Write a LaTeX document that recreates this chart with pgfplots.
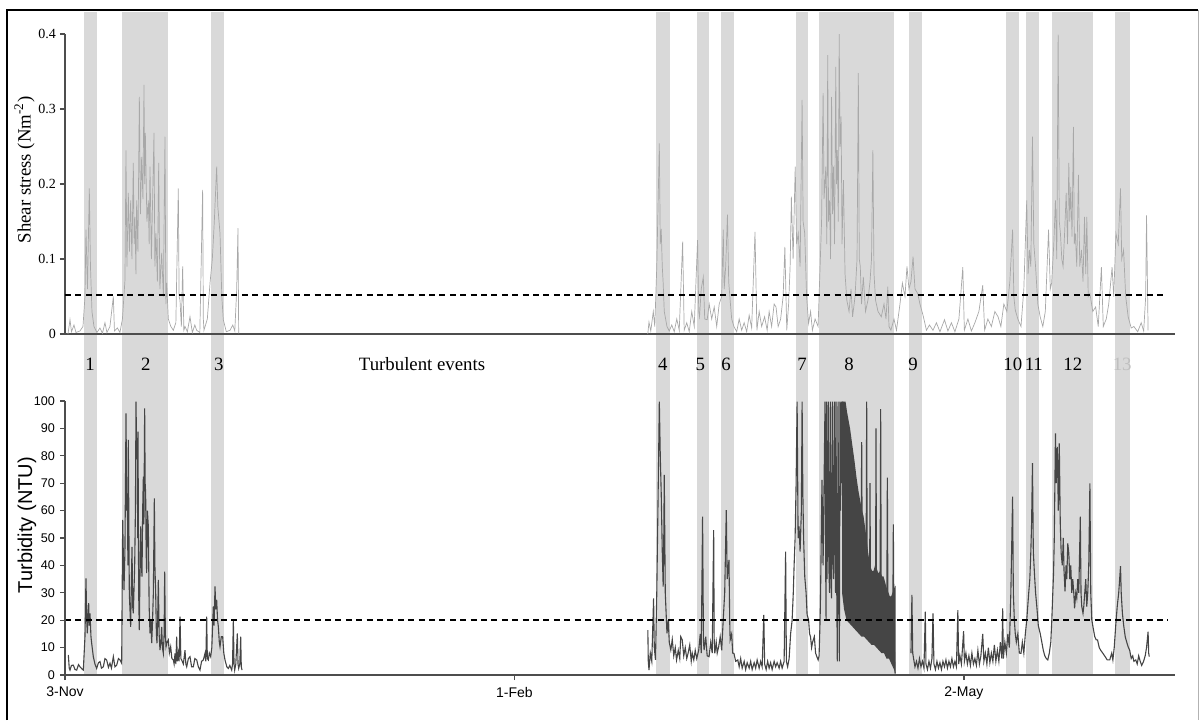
\documentclass[border=0pt]{standalone}
\usepackage{fontspec}
\setmainfont{Liberation Serif}
\setsansfont{Liberation Sans}
\usepackage{pgfplots}
\pgfplotsset{compat=1.18}
\definecolor{band}{HTML}{D9D9D9}
\definecolor{shear}{HTML}{A8A8A8}
\definecolor{turb}{HTML}{454545}
\definecolor{axl}{HTML}{4D4D4D}

% x = days after 3 Nov
\pgfplotsset{
  panel/.style={scale only axis, width=555pt, xmin=0, xmax=222.27,
    enlargelimits=false,
    axis x line=bottom, axis y line=left,
    axis line style={axl, line width=0.75pt, -},
    tick style={axl, line width=0.6pt}, tick align=outside,
    major tick length=2.5pt,
    /pgf/number format/assume math mode=true, scaled y ticks=false},
  evband/.style={fill=band, draw=none, forget plot},
  thr/.style={black, line width=0.8pt, dash pattern=on 3pt off 2.2pt},
}

\begin{document}
\begin{tikzpicture}
\path[use as bounding box] (0,0) rectangle (600pt,360pt);

% ---------- turbidity (bottom) ----------
\begin{axis}[panel, at={(32.5pt,22.5pt)}, anchor=south west, height=137pt,
  ymin=0, ymax=100, ytick={0,10,...,100},
  xtick={0,90,180}, xticklabels={3-Nov,1-Feb,2-May},
  clip=false, axis on top,
  yticklabel style={font=\sffamily\fontsize{6.3}{7}\selectfont, xshift=1pt},
  xticklabel style={font=\sffamily\fontsize{7}{8}\selectfont},
  ylabel={Turbidity (NTU)},
  ylabel style={font=\sffamily\fontsize{10}{12}\selectfont,
    at={(axis description cs:-0.0342,0.547)}, anchor=center},
]
% turbulent event bands (run up through the shear panel)
\addplot[evband] coordinates {(3.8,242)(6.4,242)} \closedcycle;
\addplot[evband] coordinates {(11.4,242)(20.6,242)} \closedcycle;
\addplot[evband] coordinates {(29.2,242)(31.8,242)} \closedcycle;
\addplot[evband] coordinates {(118.3,242)(121.1,242)} \closedcycle;
\addplot[evband] coordinates {(126.6,242)(129.0,242)} \closedcycle;
\addplot[evband] coordinates {(131.4,242)(134.0,242)} \closedcycle;
\addplot[evband] coordinates {(146.4,242)(148.8,242)} \closedcycle;
\addplot[evband] coordinates {(151.0,242)(166.0,242)} \closedcycle;
\addplot[evband] coordinates {(169.0,242)(171.6,242)} \closedcycle;
\addplot[evband] coordinates {(188.4,242)(191.0,242)} \closedcycle;
\addplot[evband] coordinates {(192.4,242)(195.0,242)} \closedcycle;
\addplot[evband] coordinates {(197.6,242)(205.8,242)} \closedcycle;
\addplot[evband] coordinates {(210.3,242)(213.3,242)} \closedcycle;

\addplot[turb, line width=0.55pt] coordinates {
(0.67,7.3)(0.85,2.5)(1.0,1.8)(1.3,3.5)(1.67,3.6)(2.0,2.0)(2.34,1.8)(2.7,3.8)(3.0,3.0)(3.4,2.2)(3.67,1.8)
(4.0,14.0)(4.2,35.3)(4.35,20)(4.47,15.2)(4.6,22)(4.74,26.2)(4.85,18)(5.01,22.5)(5.2,14)(5.34,11.6)(5.67,6.7)
(6.0,4.0)(6.34,2.4)(6.7,4.5)(7.01,4.9)(7.3,2.5)(7.68,3.0)(8.0,6.0)(8.34,5.5)(8.7,2.8)(9.01,4.3)(9.3,2.5)
(9.68,6.7)(10.0,3.0)(10.35,3.6)(10.7,6.0)(11.01,5.5)(11.35,4.3)(11.55,56.6)(11.81,31.0)(12.0,45)(12.22,95.5)
(12.35,60)(12.48,66.3)(12.6,40)(12.68,85.8)(12.88,29.8)(13.15,17.6)(13.3,35)(13.42,46.8)(13.55,25)(13.68,22.5)
(13.8,30)(13.95,39.5)(14.1,60)(14.22,99.8)(14.35,80)(14.48,78.5)(14.55,50)(14.62,88.8)(14.75,30)(14.88,16.4)
(15.0,35)(15.15,54.2)(15.3,40)(15.42,35.9)(15.55,60)(15.69,72.4)(15.8,55)(15.95,97.3)(16.05,70)(16.15,66.3)
(16.25,45)(16.35,37.2)(16.5,60)(16.69,54.2)(16.85,25)(17.02,15.2)(17.2,20)(17.36,11.6)(17.5,18)(17.69,29.8)
(17.89,64.5)(18.0,40)(18.16,29.8)(18.3,15)(18.42,11.6)(18.55,20)(18.69,34.7)(18.85,15)(19.02,9.1)(19.2,12)
(19.36,17.6)(19.5,10)(19.69,7.9)(19.85,15)(19.96,37.7)(20.1,15)(20.23,10.3)(20.45,12)(20.69,12.8)(20.9,8)
(21.16,10.3)(21.4,6)(21.69,5.5)(21.85,4)(22.03,7.9)(22.2,4)(22.36,14.0)(22.5,5)(22.7,7.9)(22.85,5)(23.03,21.3)
(23.2,6)(23.36,5.5)(23.7,4)(24.03,9.1)(24.2,4)(24.37,3.0)(24.7,6)(25.03,6.7)(25.35,3)(25.7,3.0)(26.0,6)
(26.37,5.5)(26.7,3)(27.03,1.8)(27.35,5)(27.7,5.5)(28.04,7.9)(28.2,5)(28.37,21.3)(28.5,6)(28.7,5.5)(28.9,8)
(29.17,6.7)(29.4,10)(29.7,25.0)(29.85,18)(30.04,32.3)(30.2,24)(30.37,27.4)(30.55,20)(30.71,17.6)(30.9,12)
(31.04,10.3)(31.3,14)(31.57,14.0)(31.8,8)(32.04,5.5)(32.4,3)(32.71,2.4)(33.0,3.5)(33.38,1.8)(33.55,4)
(33.71,20.1)(33.85,4)(33.98,1.8)(34.2,4)(34.51,15.2)(34.65,4)(34.78,2.4)(35.0,4)(35.18,14.0)(35.3,3)(35.45,1.8)
};
\addplot[turb, line width=0.55pt] coordinates {
(116.71,16.4)(116.8,5)(116.94,1.8)(117.2,8)(117.5,5)(117.86,28.0)(118.0,10)(118.24,5.5)(118.5,30)(118.8,70)
(119.01,99.8)(119.2,80)(119.39,66.3)(119.6,45)(119.78,32.3)(119.9,50)(120.0,73.0)(120.2,30)(120.54,15.2)
(120.8,20)(121.0,12)(121.31,9.1)(121.6,13)(121.9,7)(122.2,10)(122.46,5.5)(122.8,9)(123.1,6)(123.3,14)
(123.6,12.8)(123.9,7)(124.2,10)(124.5,6)(124.76,7.9)(125.1,11)(125.4,5)(125.6,8)(125.91,5.5)(126.2,9)(126.5,6)
(126.9,9.1)(127.2,15)(127.4,8)(127.67,57.8)(127.85,12)(127.98,9.1)(128.3,14)(128.59,7)(128.97,6.7)(129.3,12)
(129.6,8)(129.89,52.9)(130.0,12)(130.12,7.9)(130.4,12)(130.6,8)(130.89,10.3)(131.2,14)(131.5,9)(131.8,20)
(132.1,30)(132.42,60.2)(132.6,35)(132.96,42.0)(133.1,20)(133.19,12.8)(133.5,15)(133.7,8)(133.95,7.9)(134.3,5)
(134.72,5.5)(135.0,3)(135.3,6)(135.6,2.5)(136.0,5)(136.3,2)(136.6,4.5)(137.0,2.5)(137.3,5)(137.6,2)(138.0,4.5)
(138.3,2.5)(138.6,5.5)(139.0,2.5)(139.3,5)(139.6,3)(139.93,21.9)(140.1,4)(140.4,2)(140.7,5)(141.0,2.5)
(141.3,4.5)(141.6,2)(142.0,5)(142.3,3)(142.6,4.5)(143.0,2.5)(143.3,5)(143.6,2.5)(144.0,5)(144.3,45.0)(144.45,5)
(144.7,3)(145.0,6)(145.3,15)(145.6,20)(145.83,29.8)(146.0,40)(146.2,50)(146.4,70)(146.6,99.8)(146.8,50)
(146.98,54.2)(147.2,45)(147.45,60)(147.6,99.8)(147.75,66.3)(147.9,50)(148.13,35.9)(148.4,30)(148.6,22)
(148.9,20.1)(149.1,15)(149.28,14.0)(149.5,10)(149.7,12)(150.05,14.0)(150.3,8)(150.55,6.7)(150.81,5.5)(151.0,7)
};
% event 8: dense saturated record (solid mass)
\addplot[draw=none, fill=turb] coordinates {
(155.6,99.8)(156.3,99.8)(156.6,96)(156.9,93)(157.2,90)(157.5,86)(157.8,82)(158.1,78)(158.5,72)(158.9,67)
(159.2,64)(159.6,60)(159.9,58)(160.2,54)(160.5,50)(160.8,45)(161.2,40)(161.6,38)(161.9,38)(162.2,40)(162.5,39)
(162.9,37)(163.2,38)(163.6,36)(163.9,36)(164.2,34)(164.5,32)(164.9,30)(165.2,28.5)(165.5,29)(165.9,31)
(166.2,32.5)(166.35,32.5)
(166.35,0.3)(166.0,2)(165.5,4)(165.0,6)(164.5,6)(164.0,8)(163.5,8)(163.0,9)(162.5,10)(162.0,11)(161.5,11)
(161.0,12)(160.5,13)(160.0,14)(159.5,14)(159.0,15)(158.5,16)(158.0,17)(157.5,18)(157.0,19)(156.5,20)
(156.0,24)(155.6,30)
};
\addplot[turb, line width=0.55pt] coordinates {
(151.0,7)(151.2,20)(151.3,30)(151.58,71.2)(151.8,40)(152.0,70)(152.19,99.8)(152.3,45)(152.4,20)(152.5,99.8)
(152.6,35)(152.85,99.8)(152.95,40)(153.1,30)(153.25,99.8)(153.35,38)(153.5,28)(153.65,99.8)(153.75,45)
(153.9,35)(154.05,99.8)(154.15,50)(154.3,30)(154.39,99.8)(154.5,40)(154.65,5)(154.8,99.8)(154.9,45)(155.06,5)
(155.19,99.8)(155.3,60)(155.5,99.8)(155.6,70)(155.75,99.8)(156.0,60)(156.5,40)(157.0,50)(157.5,30)(158.0,40)
(158.5,30)(159.0,35)(159.4,40)(159.53,85)(159.65,40)(160.4,30)(160.53,99.8)(160.65,30)(161.1,25)(161.2,70)
(161.3,25)(162.3,25)(162.4,90)(162.5,25)(163.2,25)(163.33,97)(163.45,25)(164.55,20)(164.67,72)(164.8,20)
(165.75,18)(165.87,55)(166.0,15)(166.2,0.5)
};
\addplot[turb, line width=0.55pt] coordinates {
(169.4,8)(169.59,29.2)(169.75,8)(169.97,5.5)(170.2,3)(170.5,5)(170.8,2.5)(171.1,6)(171.4,3)(171.7,5)(172.0,2.5)
(172.27,23.1)(172.4,4)(172.7,2)(173.0,5)(173.3,2.5)(173.6,6)(173.81,22.5)(174.0,4)(174.3,2)(174.6,5)(174.9,2.5)
(175.2,4.5)(175.5,2)(175.8,5)(176.11,3)(176.4,5.5)(176.7,2.5)(177.0,5)(177.3,3)(177.6,6)(177.9,3)(178.2,5)
(178.5,3)(178.79,23.7)(178.95,4)(179.2,7)(179.5,4)(179.94,16)(180.1,5)(180.4,8)(180.7,4)(181.0,7)(181.3,3.5)
(181.6,8)(181.9,4)(182.2,6)(182.5,3.5)(182.8,9)(183.1,4)(183.4,7)(183.77,15)(184.0,5)(184.3,8)(184.6,4)
(184.9,10)(185.2,4.5)(185.5,8)(185.8,5)(186.1,11)(186.4,5)(186.7,9)(187.0,5)(187.3,12)(187.6,6)(187.76,24.3)
(187.9,6)(188.2,12)(188.5,8)(188.8,15)(189.1,10)(189.4,30)(189.75,65.1)(189.9,30)(190.1,20)(190.28,15.2)
(190.5,12)(190.8,15)(191.1,8)(191.43,7.9)(191.7,12)(192.0,8)(192.3,15)(192.58,20)(192.97,29.8)(193.2,35)
(193.4,45)(193.55,55)(193.73,77.3)(193.9,45)(194.12,37.2)(194.35,30)(194.6,25)(194.9,18)(195.27,15.2)
(195.6,12)(195.9,9)(196.2,7)(196.5,6)(196.8,5.5)(197.1,8)(197.4,12)(197.6,20)(197.8,30)(197.95,37.2)(198.1,50)
(198.33,88.2)(198.5,70)(198.71,83.3)(198.9,60)(199.1,84.5)(199.3,55)(199.48,44.4)(199.7,40)(199.9,50)
(200.05,38)(200.25,30.5)(200.45,40)(200.6,35)(200.8,48)(201.01,44.4)(201.2,35)(201.4,40)(201.6,30)(201.8,35)
(202.0,30)(202.16,24.3)(202.4,30)(202.6,28)(202.8,35)(203.0,30)(203.31,57.8)(203.45,30)(203.6,25)(203.85,22.5)
(204.0,25)(204.2,30)(204.4,35)(204.6,25)(204.8,30)(205.0,40)(205.23,69.9)(205.4,30)(205.61,20.1)(205.9,17)
(206.2,14)(206.5,12.8)(206.76,12.8)(207.1,10)(207.4,9)(207.8,8)(208.29,6.7)(208.7,5.5)(209.2,5.5)(209.6,8)
(209.83,5.5)(210.1,10)(210.4,18)(210.7,25)(211.0,30)(211.36,39.7)(211.5,30)(211.74,22.5)(212.0,18)(212.3,14)
(212.6,12)(212.89,10.3)(213.2,9)(213.5,6)(213.8,7)(214.04,5)(214.42,5.5)(214.7,4)(215.0,7)(215.3,5)(215.6,3.5)
(215.96,4.9)(216.3,7)(216.57,10)(216.88,15.8)(217.0,8)(217.11,6.7)
};
\addplot[thr] coordinates {(0,20)(220.9,20)};

% event labels in the gap between panels
\node[font=\fontsize{9.4}{11}\selectfont] at (axis cs:71.5,113.5) {Turbulent events};
\node[font=\fontsize{9.4}{11}\selectfont] at (axis cs:5.0,113.5) {1};
\node[font=\fontsize{9.4}{11}\selectfont] at (axis cs:16.2,113.5) {2};
\node[font=\fontsize{9.4}{11}\selectfont] at (axis cs:30.8,113.5) {3};
\node[font=\fontsize{9.4}{11}\selectfont] at (axis cs:119.7,113.5) {4};
\node[font=\fontsize{9.4}{11}\selectfont] at (axis cs:127.2,113.5) {5};
\node[font=\fontsize{9.4}{11}\selectfont] at (axis cs:132.4,113.5) {6};
\node[font=\fontsize{9.4}{11}\selectfont] at (axis cs:147.6,113.5) {7};
\node[font=\fontsize{9.4}{11}\selectfont] at (axis cs:157.0,113.5) {8};
\node[font=\fontsize{9.4}{11}\selectfont] at (axis cs:169.8,113.5) {9};
\node[font=\fontsize{9.4}{11}\selectfont] at (axis cs:189.8,113.5) {10};
\node[font=\fontsize{9.4}{11}\selectfont] at (axis cs:194.0,113.5) {11};
\node[font=\fontsize{9.4}{11}\selectfont] at (axis cs:201.8,113.5) {12};
\node[font=\fontsize{9.4}{11}\selectfont, text=black!25] at (axis cs:211.7,113.5) {13};
\end{axis}

% ---------- shear stress (top) ----------
\begin{axis}[panel, at={(32.5pt,193pt)}, anchor=south west, height=150pt,
  ymin=0, ymax=0.4, ytick={0,0.1,0.2,0.3,0.4}, xtick=\empty,
  yticklabel style={font=\fontsize{7}{8}\selectfont, xshift=1.5pt},
  ylabel={Shear stress (Nm\textsuperscript{-2})},
  ylabel style={font=\fontsize{9.4}{11}\selectfont,
    at={(axis description cs:-0.0365,0.547)}, anchor=center},
]
\addplot[shear, line width=0.35pt] coordinates {
(0.6,0.0)(1.0,0.019)(1.3,0.003)(1.8,0.012)(2.2,0.002)(3.0,0.004)(3.6,0.01)(4.0,0.05)(4.2,0.139)(4.5,0.06)
(4.87,0.194)(5.1,0.09)(5.4,0.03)(5.8,0.01)(6.4,0.002)(7.0,0.008)(7.5,0.001)(8.0,0.015)(8.4,0.002)(9.0,0.01)
(9.68,0.05)(9.9,0.004)(10.5,0.008)(11.0,0.002)(11.5,0.02)(12.01,0.072)(12.21,0.245)(12.4,0.09)(12.68,0.188)
(12.9,0.11)(13.15,0.178)(13.4,0.1)(13.68,0.228)(13.85,0.12)(14.02,0.156)(14.2,0.08)(14.35,0.178)(14.6,0.11)
(14.89,0.316)(15.1,0.16)(15.35,0.236)(15.6,0.18)(15.82,0.332)(15.95,0.2)(16.09,0.268)(16.4,0.15)(16.69,0.178)
(16.85,0.12)(17.02,0.223)(17.3,0.1)(17.82,0.268)(18.0,0.09)(18.22,0.134)(18.5,0.07)(18.76,0.228)(19.0,0.06)
(19.36,0.108)(19.7,0.05)(20.02,0.263)(20.2,0.04)(20.36,0.068)(20.69,0.02)(21.2,0.01)(21.69,0.005)(22.2,0.015)
(22.69,0.194)(22.85,0.05)(23.03,0.045)(23.3,0.01)(23.56,0.09)(23.8,0.005)(24.03,0.01)(24.5,0.003)(25.03,0.023)
(25.5,0.002)(26.0,0.012)(26.36,0.005)(27.0,0.002)(27.56,0.192)(27.7,0.02)(27.83,0.005)(28.5,0.02)(29.04,0.068)
(29.5,0.1)(29.9,0.15)(30.37,0.223)(30.6,0.17)(31.04,0.134)(31.4,0.05)(31.7,0.019)(32.3,0.003)(33.04,0.005)
(33.6,0.012)(34.0,0.004)(34.38,0.059)(34.64,0.141)(34.78,0.001)
};
\addplot[shear, line width=0.35pt] coordinates {
(116.7,0.0)(116.94,0.016)(117.3,0.004)(117.8,0.03)(118.1,0.01)(118.5,0.09)(119.01,0.254)(119.2,0.12)
(119.39,0.14)(119.6,0.09)(119.78,0.068)(120.0,0.03)(120.54,0.01)(121.0,0.004)(121.5,0.012)(122.0,0.003)
(122.5,0.02)(123.0,0.005)(123.68,0.123)(123.99,0.005)(124.5,0.015)(125.0,0.003)(125.5,0.03)(126.0,0.01)
(126.67,0.125)(126.9,0.03)(127.06,0.023)(127.4,0.06)(127.82,0.076)(128.1,0.02)(128.59,0.019)(129.0,0.04)
(129.5,0.02)(130.0,0.036)(130.5,0.01)(131.0,0.04)(131.5,0.05)(131.81,0.139)(132.0,0.06)(132.3,0.09)
(132.65,0.159)(132.9,0.07)(133.19,0.045)(133.5,0.02)(133.95,0.01)(134.5,0.003)(135.0,0.02)(135.5,0.005)
(136.0,0.015)(136.5,0.003)(137.0,0.025)(137.5,0.008)(138.17,0.136)(138.55,0.005)(139.0,0.03)(139.5,0.01)
(140.09,0.023)(140.6,0.005)(141.0,0.03)(141.5,0.01)(142.0,0.04)(142.38,0.036)(142.8,0.01)(143.3,0.02)
(143.8,0.05)(144.15,0.116)(144.53,0.005)(144.9,0.04)(145.2,0.09)(145.45,0.183)(145.8,0.1)(146.22,0.223)
(146.5,0.12)(146.83,0.134)(147.2,0.09)(147.6,0.312)(147.8,0.15)(148.13,0.134)(148.5,0.05)(148.9,0.014)
(149.3,0.03)(149.66,0.005)(150.2,0.02)(150.8,0.01)(151.2,0.09)(151.5,0.15)(151.81,0.321)(152.0,0.18)
(152.35,0.223)(152.55,0.12)(152.73,0.372)(152.9,0.15)(153.11,0.178)(153.3,0.1)(153.5,0.316)(153.7,0.16)
(153.88,0.223)(154.1,0.12)(154.34,0.356)(154.5,0.2)(154.65,0.245)(154.85,0.15)(155.03,0.401)(155.2,0.25)
(155.41,0.29)(155.6,0.12)(155.87,0.205)(156.2,0.08)(156.56,0.045)(157.0,0.03)(157.4,0.06)(157.71,0.023)
(158.2,0.05)(158.6,0.1)(158.86,0.348)(159.05,0.1)(159.25,0.09)(159.5,0.04)(159.86,0.076)(160.3,0.03)
(160.78,0.045)(161.2,0.07)(161.5,0.1)(161.77,0.245)(162.0,0.08)(162.31,0.045)(162.8,0.03)(163.46,0.023)
(164.0,0.04)(164.4,0.02)(164.76,0.063)(165.0,0.01)(165.38,0.005)(166.0,0.02)(166.5,0.005)(167.2,0.04)
(167.68,0.068)(168.2,0.05)(168.6,0.09)(169.0,0.06)(169.4,0.07)(169.82,0.103)(170.2,0.06)(170.74,0.054)
(171.2,0.04)(171.89,0.023)(172.5,0.005)(173.1,0.012)(173.81,0.005)(174.5,0.015)(175.2,0.003)(176.11,0.019)
(176.8,0.004)(177.5,0.015)(178.2,0.003)(179.0,0.02)(179.78,0.089)(180.09,0.005)(180.8,0.02)(181.5,0.004)
(182.2,0.015)(183.0,0.03)(183.77,0.065)(184.15,0.005)(184.8,0.02)(185.5,0.01)(186.2,0.03)(186.84,0.023)
(187.4,0.01)(188.0,0.04)(188.6,0.03)(189.2,0.07)(189.75,0.139)(190.0,0.05)(190.28,0.032)(190.8,0.02)
(191.43,0.01)(192.0,0.06)(192.58,0.178)(192.85,0.08)(193.12,0.112)(193.4,0.09)(193.73,0.263)(194.0,0.12)
(194.35,0.09)(194.8,0.04)(195.27,0.023)(195.8,0.01)(196.3,0.03)(196.95,0.139)(197.3,0.06)(197.57,0.068)
(198.0,0.12)(198.33,0.178)(198.6,0.1)(198.87,0.399)(199.1,0.15)(199.33,0.134)(199.6,0.1)(199.86,0.09)
(200.2,0.14)(200.48,0.188)(200.75,0.12)(201.01,0.228)(201.2,0.15)(201.4,0.196)(201.65,0.13)(201.93,0.276)
(202.1,0.12)(202.32,0.134)(202.6,0.09)(202.93,0.212)(203.2,0.09)(203.54,0.112)(203.85,0.07)(204.15,0.156)
(204.4,0.08)(204.61,0.156)(204.9,0.05)(205.23,0.054)(205.8,0.03)(206.38,0.036)(206.9,0.01)(207.53,0.089)
(207.91,0.01)(208.5,0.02)(209.0,0.04)(209.67,0.089)(210.0,0.05)(210.44,0.134)(210.9,0.12)(211.36,0.194)
(211.6,0.1)(211.97,0.112)(212.4,0.05)(212.89,0.023)(213.5,0.008)(214.04,0.01)(214.8,0.003)(215.5,0.015)
(216.0,0.004)(216.4,0.05)(216.57,0.158)(216.88,0.005)
};
\addplot[thr] coordinates {(0,0.052)(220.5,0.052)};
\end{axis}

% outer frame
\draw[black, line width=0.9pt] (3.5pt,0) -- (3.5pt,355pt) -- (599pt,355pt);
\draw[black!30, line width=0.5pt] (599pt,355pt) -- (599pt,0);
\end{tikzpicture}
\end{document}
